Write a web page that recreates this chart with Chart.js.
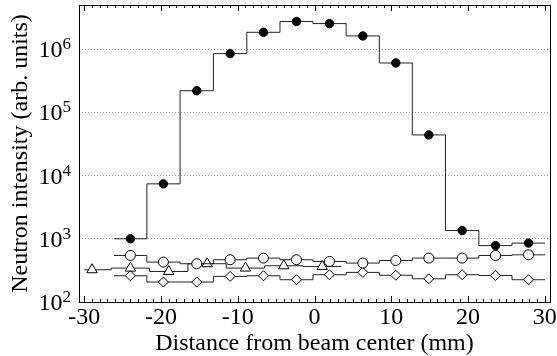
<!DOCTYPE html>
<html>
<head>
<meta charset="utf-8">
<script src="https://cdn.jsdelivr.net/npm/chart.js@4.4.0/dist/chart.umd.min.js"></script>
<style>
    html, body { margin: 0; padding: 0; background: #fff; }
</style>
</head>
<body>
<canvas id="chart" width="557" height="356"></canvas>
<script>
// --- Data ---
const positions = [-24.0, -19.7, -15.35, -11.0, -6.65, -2.35, 1.95, 6.3, 10.6, 14.9, 19.25, 23.6, 27.9];
const beamValues = [1000, 7400, 220000, 850000, 1850000, 2740000, 2540000, 1620000, 605000, 44000, 1350, 780, 855];
const circleValues = [545, 428, 403, 466, 495, 466, 438, 413, 454, 495, 495, 545, 558];
const diamondValues = [260, 207, 207, 254, 260, 225, 270, 294, 265, 233, 270, 263, 225];
const trianglePositions = [-29, -24, -19, -14, -9, -4, 1];
const triangleValues = [324, 344, 304, 403, 344, 374, 365];
const rangeEdges = [-26.15, 30.05];
const triangleEdges = [-30, 3.5];
const xTicks = [-30, -20, -10, 0, 10, 20, 30];
const yTicks = [100, 1000, 10000, 100000, 1000000];

const FONT = '"Liberation Serif", "Times New Roman", serif';

// histogram: flat piece out to the bin edge on both ends
const stepData = (xs, ys, edges) => {
    const pts = xs.map((x, i) => ({ x: x, y: ys[i] }));
    pts.unshift({ x: edges[0], y: ys[0] });
    pts.push({ x: edges[1], y: ys[ys.length - 1] });
    return pts;
};

const hideEnds = (r) => (ctx) => {
    const n = ctx.dataset.data.length;
    return (ctx.dataIndex === 0 || ctx.dataIndex === n - 1) ? 0 : r;
};

const series = (data, style, radius, fillColor) => ({
    data: data,
    stepped: 'middle',
    borderColor: '#222',
    borderWidth: 1,
    fill: false,
    pointStyle: style,
    pointRadius: hideEnds(radius),
    pointBackgroundColor: fillColor,
    pointBorderColor: '#000',
    pointBorderWidth: 1
});

// --- frame, inward ticks, tick labels and titles ---
const framePlugin = {
    id: 'frame',
    afterDraw(chart) {
        const { ctx, chartArea: a, scales: { x, y } } = chart;
        ctx.save();
        ctx.strokeStyle = '#000';
        ctx.lineWidth = 1;
        ctx.strokeRect(Math.round(a.left) + 0.5, Math.round(a.top) + 0.5,
            Math.round(a.right - a.left), Math.round(a.bottom - a.top));

        ctx.beginPath();
        for (let v = xTicks[0]; v <= xTicks[xTicks.length - 1]; v++) {
            const px = Math.round(x.getPixelForValue(v)) + 0.5;
            const len = v % 10 === 0 ? 6 : 3;
            ctx.moveTo(px, a.bottom);
            ctx.lineTo(px, a.bottom - len);
            ctx.moveTo(px, a.top);
            ctx.lineTo(px, a.top + len);
        }
        ctx.stroke();

        ctx.fillStyle = '#000';
        ctx.font = '24px ' + FONT;
        ctx.textAlign = 'center';
        ctx.textBaseline = 'alphabetic';
        xTicks.forEach(v => {
            ctx.fillText(String(v), x.getPixelForValue(v), a.bottom + 22);
        });

        yTicks.forEach(v => {
            const py = y.getPixelForValue(v);
            const exp = String(Math.round(Math.log10(v)));
            ctx.font = '17px ' + FONT;
            const ew = ctx.measureText(exp).width;
            const right = a.left - 8;
            ctx.textAlign = 'left';
            ctx.fillText(exp, right - ew, py);
            ctx.font = '24px ' + FONT;
            ctx.textAlign = 'right';
            ctx.fillText('10', right - ew, py + 8);
        });

        ctx.font = '24px ' + FONT;
        ctx.textAlign = 'center';
        ctx.fillText('Distance from beam center (mm)', (a.left + a.right) / 2, a.bottom + 48);

        ctx.translate(27, (a.top + a.bottom) / 2);
        ctx.rotate(-Math.PI / 2);
        ctx.fillText('Neutron intensity (arb. units)', 0, 0);
        ctx.restore();
    }
};

new Chart(document.getElementById('chart'), {
    type: 'line',
    data: {
        datasets: [
            series(stepData(positions, beamValues, rangeEdges), 'circle', 4.2, '#000'),
            series(stepData(positions, circleValues, rangeEdges), 'circle', 5, '#fff'),
            series(stepData(trianglePositions, triangleValues, triangleEdges), 'triangle', 6, '#fff'),
            series(stepData(positions, diamondValues, rangeEdges), 'rectRot', 5, '#fff')
        ]
    },
    options: {
        responsive: false,
        animation: false,
        events: [],
        layout: { padding: { left: 79, top: 5, right: 7, bottom: 54 } },
        plugins: {
            legend: { display: false },
            tooltip: { enabled: false }
        },
        scales: {
            x: {
                type: 'linear',
                min: -30.7,
                max: 30.7,
                ticks: { display: false },
                grid: { display: false, drawTicks: false },
                border: { display: false }
            },
            y: {
                type: 'logarithmic',
                min: 100,
                max: 5000000,
                afterBuildTicks: (axis) => {
                    axis.ticks = yTicks.map(v => ({ value: v }));
                },
                ticks: { display: false },
                grid: {
                    drawTicks: false,
                    color: (ctx) => (ctx.tick && ctx.tick.value > 100) ? '#999' : 'rgba(0,0,0,0)',
                    lineWidth: 1
                },
                border: { display: false, dash: [1, 2] }
            }
        }
    },
    plugins: [framePlugin]
});
</script>
</body>
</html>
